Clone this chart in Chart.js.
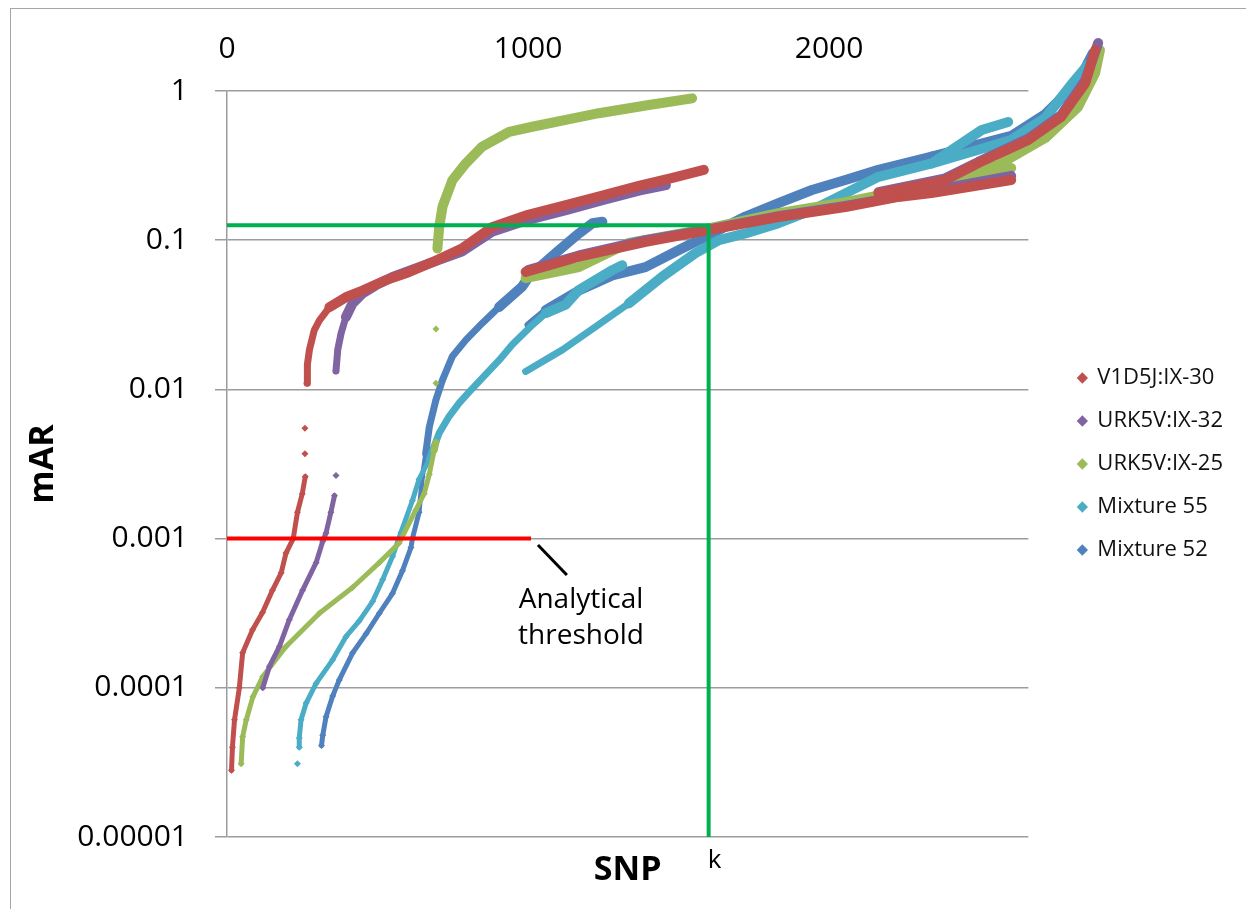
<!DOCTYPE html>
<html>
<head>
<meta charset="utf-8">
<script src="https://cdn.jsdelivr.net/npm/chart.js@4.4.1/dist/chart.umd.min.js"></script>
<style>
  html, body { margin: 0; padding: 0; background: #fff; }
  #wrap { position: relative; width: 1246px; height: 909px; overflow: hidden; }
  #frame { position: absolute; left: 10px; top: 8px; width: 1300px; height: 1000px; border-left: 1.5px solid #a6a6a6; border-top: 1.5px solid #a6a6a6; }
  canvas { position: absolute; left: 0; top: 0; }
</style>
</head>
<body>
<div id="wrap"><div id="frame"></div><canvas id="myChart" width="1246" height="909"></canvas></div>
<script>
/* DONNEES */
const snpTicks = [0, 1000, 2000];
const snpTickLabels = ['0', '1000', '2000'];
const marTicks = [1, 0.1, 0.01, 0.001, 0.0001, 0.00001];
const marTickLabels = ['1', '0.1', '0.01', '0.001', '0.0001', '0.00001'];
const kTicks = [1600];
const kTickLabels = ['k'];

const seriesNames = ['V1D5J:IX-30', 'URK5V:IX-32', 'URK5V:IX-25', 'Mixture 55', 'Mixture 52'];
const seriesColors = ['#c0504d', '#8064a2', '#9bbb59', '#4bacc6', '#4f81bd'];

// null = coupure entre deux trainees
const v1d5jX = [15,18,25,41,52,85,118,151,180,196,220,234,250,260,null,259,null,259,null,266,267,274,290,307,340,395,450,528,594,682,780,880,1000,1126,1250,1368,1480,1584,null,992,1169,1391,1600,1832,2054,2230,2340,2605,null,2164,2386,2496,2662,2771,2851,2884];
const v1d5jY = [2.8e-5,4.0e-5,6.1e-5,1.0e-4,1.72e-4,2.45e-4,3.2e-4,4.5e-4,5.9e-4,8.0e-4,1.0e-3,1.5e-3,2.0e-3,2.6e-3,null,3.7e-3,null,5.5e-3,null,0.011,0.0147,0.0185,0.025,0.029,0.0355,0.0415,0.046,0.054,0.06,0.0712,0.088,0.122,0.148,0.172,0.2,0.231,0.262,0.296,null,0.0613,0.0775,0.0975,0.117,0.143,0.167,0.195,0.207,0.253,null,0.207,0.253,0.329,0.47,0.67,1.13,1.88];

const urk32X = [119,141,174,207,251,296,318,329,345,357,null,362,null,362,368,379,395,417,450,495,550,638,780,880,1000,1126,1250,1368,1458,null,1000,1169,1391,1600,1832,2054,2340,2605,null,2164,2386,2496,2662,2771,2851,2894];
const urk32Y = [1.0e-4,1.39e-4,1.89e-4,2.86e-4,4.5e-4,6.9e-4,9.6e-4,1.09e-3,1.5e-3,1.94e-3,null,2.65e-3,null,0.0133,0.0185,0.0238,0.0306,0.0377,0.044,0.05,0.0567,0.066,0.084,0.114,0.137,0.159,0.186,0.215,0.234,null,0.063,0.079,0.1,0.118,0.145,0.17,0.215,0.27,null,0.21,0.26,0.335,0.48,0.69,1.18,2.1];

const urk25X = [47,52,64,86,119,196,307,417,506,572,627,655,672,688,694,null,694,null,694,null,699,705,716,749,793,848,937,1014,1125,1235,1401,1545,null,992,1169,1335,1600,1832,2054,2340,2605,null,2230,2562,2718,2827,2884,2900];
const urk25Y = [3.1e-5,4.7e-5,6.1e-5,8.7e-5,1.19e-4,1.89e-4,3.16e-4,4.7e-4,6.9e-4,9.35e-4,1.55e-3,2.0e-3,2.7e-3,3.9e-3,4.4e-3,null,0.011,null,0.0254,null,0.088,0.123,0.168,0.253,0.327,0.424,0.533,0.576,0.64,0.71,0.806,0.893,null,0.0557,0.066,0.096,0.12,0.152,0.18,0.235,0.305,null,0.2,0.32,0.484,0.78,1.32,1.88];

const mix55X = [234,null,240,240,246,263,296,351,395,439,484,517,550,578,616,638,672,705,738,771,804,904,948,1014,1059,1125,1169,1280,1313,null,992,1114,1225,1335,1446,1556,1634,1722,1832,1943,2054,2164,2341,2507,2595,null,2341,2605,2718,2804,2860];
const mix55Y = [3.1e-5,null,4.0e-5,4.6e-5,6.1e-5,7.9e-5,1.07e-4,1.54e-4,2.2e-4,2.8e-4,3.8e-4,5.3e-4,7.6e-4,1.1e-3,1.8e-3,2.5e-3,3.4e-3,5.1e-3,6.6e-3,8.1e-3,9.6e-3,0.0157,0.02,0.027,0.0325,0.037,0.0464,0.063,0.068,null,0.0132,0.0184,0.0263,0.0377,0.057,0.082,0.1,0.111,0.13,0.159,0.206,0.266,0.327,0.548,0.62,null,0.327,0.47,0.66,1.1,1.5];

const mix52X = [314,318,329,351,373,417,462,506,550,583,611,616,638,649,660,672,694,716,749,793,848,904,981,1003,1092,1169,1214,1247,null,1000,1059,1169,1280,1390,1501,1611,1722,1832,1943,2054,2164,2341,2605,null,2341,2605,2718,2827,2877];
const mix52Y = [4.1e-5,4.8e-5,6.4e-5,8.8e-5,1.13e-4,1.71e-4,2.3e-4,3.16e-4,4.3e-4,6.1e-4,8.7e-4,1.0e-3,1.5e-3,2.6e-3,3.7e-3,5.6e-3,8.5e-3,0.0116,0.0167,0.0214,0.0278,0.0357,0.049,0.057,0.082,0.111,0.13,0.133,null,0.027,0.034,0.046,0.058,0.066,0.086,0.111,0.144,0.177,0.217,0.253,0.296,0.363,0.45,null,0.363,0.5,0.7,1.15,1.8];

// lignes ajoutees sur le graphe
const kLineX = [0, 1600, 1600];
const kLineY = [0.126, 0.126, 0.00001];
const thresholdX = [0, 1010];
const thresholdY = [0.001, 0.001];
const pointerX = [1033, 1129];
const pointerY = [9.06e-4, 5.7e-4];
const noteLines = ['Analytical', 'threshold'];
const noteX = 1176;
const noteY = [3.9e-4, 2.24e-4];

const GRID = '#9c9c9c';
Chart.defaults.font.family = "'Open Sans', sans-serif";
Chart.defaults.color = '#000';

function pairs(xs, ys) {
    return xs.map(function (x, i) { return { x: x, y: ys[i] }; });
}

function trailWidth(y) {
    if (y < 0.003) return 5;
    if (y < 0.03) return 7;
    return 10;
}

function seriesDataset(i, xs, ys) {
    return {
        label: seriesNames[i],
        data: pairs(xs, ys),
        showLine: true,
        borderColor: seriesColors[i],
        backgroundColor: seriesColors[i],
        borderWidth: 7,
        borderCapStyle: 'round',
        borderJoinStyle: 'round',
        pointStyle: 'rectRot',
        pointRadius: 3.5,
        pointHoverRadius: 3.5,
        pointBorderWidth: 0,
        clip: false,
        segment: {
            borderWidth: function (c) { return trailWidth(Math.min(c.p0.parsed.y, c.p1.parsed.y)); }
        }
    };
}

function guideDataset(xs, ys, color, width) {
    return {
        label: '',
        data: pairs(xs, ys),
        showLine: true,
        borderColor: color,
        backgroundColor: color,
        borderWidth: width,
        pointRadius: 0,
        pointHoverRadius: 0,
        order: -1
    };
}

/* TEXTE "Analytical threshold" */
const noteText = {
    id: 'noteText',
    afterDatasetsDraw: function (chart) {
        const c = chart.ctx;
        c.save();
        c.font = "28px 'Open Sans'";
        c.fillStyle = '#000';
        c.textAlign = 'center';
        c.textBaseline = 'middle';
        noteLines.forEach(function (t, i) {
            c.fillText(t, chart.scales.x.getPixelForValue(noteX), chart.scales.y.getPixelForValue(noteY[i]));
        });
        c.restore();
    }
};

var ctx = document.getElementById('myChart').getContext('2d');
var myChart = new Chart(ctx, {
    type: 'scatter',
    data: {
        datasets: [
            seriesDataset(0, v1d5jX, v1d5jY),
            seriesDataset(1, urk32X, urk32Y),
            seriesDataset(2, urk25X, urk25Y),
            seriesDataset(3, mix55X, mix55Y),
            seriesDataset(4, mix52X, mix52Y),
            guideDataset(kLineX, kLineY, '#00b050', 4),
            guideDataset(thresholdX, thresholdY, '#ff0000', 4),
            guideDataset(pointerX, pointerY, '#000000', 3)
        ]
    },
    options: {
        responsive: false,
        animation: false,
        layout: { padding: { right: 13 } },
        plugins: {
            tooltip: { enabled: false },
            legend: {
                position: 'right',
                align: 'center',
                fullSize: false,
                labels: {
                    usePointStyle: true,
                    boxWidth: 8,
                    boxHeight: 8,
                    padding: 21,
                    color: '#111',
                    font: { size: 22 },
                    filter: function (item) { return item.datasetIndex < seriesNames.length; },
                    generateLabels: function (chart) {
                        const items = Chart.defaults.plugins.legend.labels.generateLabels(chart);
                        items.forEach(function (it) { it.lineWidth = 0; });
                        return items;
                    }
                }
            }
        },
        scales: {
            x: {
                type: 'linear',
                position: 'top',
                min: 0,
                max: 2662,
                afterBuildTicks: function (s) { s.ticks = snpTicks.map(function (v) { return { value: v }; }); },
                afterFit: function (s) { s.height = 91; },
                ticks: {
                    padding: 24,
                    font: { size: 30 },
                    color: '#000',
                    maxRotation: 0,
                    callback: function (v) { const i = snpTicks.indexOf(v); return i < 0 ? '' : snpTickLabels[i]; }
                },
                grid: { display: false, drawTicks: false },
                border: { display: false }
            },
            x2: {
                type: 'linear',
                position: 'bottom',
                min: 0,
                max: 2662,
                afterBuildTicks: function (s) { s.ticks = kTicks.map(function (v) { return { value: v }; }); },
                afterFit: function (s) { s.height = 72; },
                ticks: {
                    padding: 8,
                    labelOffset: 6,
                    font: { size: 26 },
                    color: '#000',
                    maxRotation: 0,
                    autoSkip: false,
                    callback: function (v) { const i = kTicks.indexOf(v); return i < 0 ? '' : kTickLabels[i]; }
                },
                grid: { display: false, drawTicks: false },
                border: { display: false },
                title: { display: true, text: 'SNP', color: '#000', font: { size: 34, weight: 'bold' }, padding: { top: 0, bottom: 18 } }
            },
            y: {
                type: 'logarithmic',
                position: 'left',
                min: 0.00001,
                max: 1,
                afterBuildTicks: function (s) { s.ticks = marTicks.map(function (v) { return { value: v }; }); },
                afterFit: function (s) { s.width = 227; },
                ticks: {
                    padding: 27,
                    font: { size: 30 },
                    color: '#000',
                    callback: function (v) { const i = marTicks.indexOf(v); return i < 0 ? '' : marTickLabels[i]; }
                },
                grid: { color: GRID, lineWidth: 1.5, tickLength: 12 },
                border: { color: GRID, width: 1.5 },
                title: { display: true, text: 'mAR', color: '#000', font: { size: 34, weight: 'bold' }, padding: { top: 23, bottom: 0 } }
            },
            yPad: {
                type: 'linear',
                position: 'right',
                grid: { display: false, drawTicks: false },
                border: { display: false },
                ticks: { display: false },
                afterFit: function (s) { s.width = 29; }
            }
        }
    },
    plugins: [noteText]
});
</script>
</body>
</html>
